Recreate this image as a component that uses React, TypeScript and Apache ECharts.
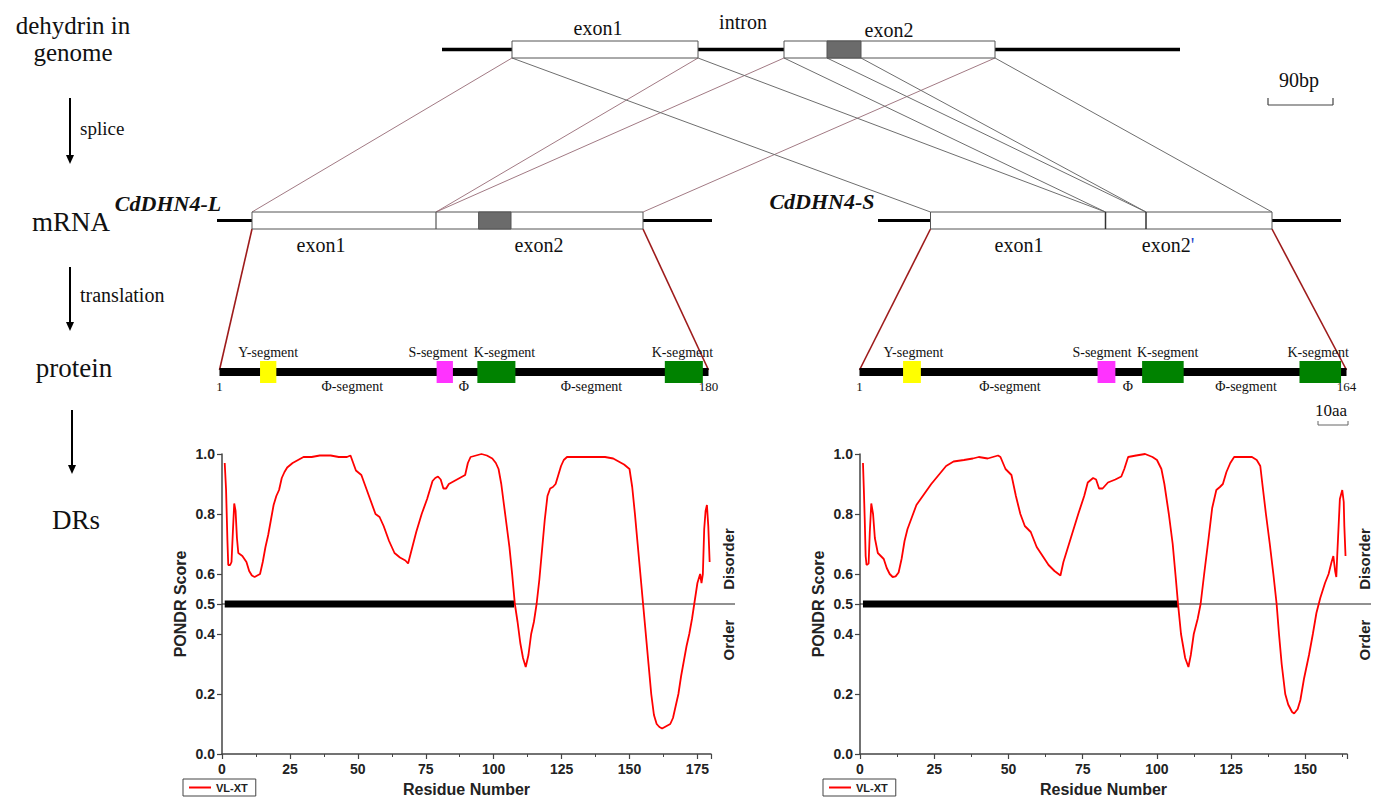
import React, { useEffect, useRef } from "react";
import * as echarts from "echarts";

// ---------------- data ----------------
const residueTickStep = 25;
const yTickValues = [0, 0.2, 0.4, 0.5, 0.6, 0.8, 1.0];
const proteinLengthL = 180;
const proteinLengthS = 164;
const disorderThreshold = 0.5;
const longDisorderL = [1, 107.5];
const longDisorderS = [1, 107.1];

// PONDR VL-XT scores, [residue, score]
const pondrL: [number, number][] = [
  [1, 0.97], [1.5, 0.88], [2, 0.71], [2.3, 0.63], [3, 0.63], [3.5, 0.64], [4, 0.74], [4.5, 0.835],
  [5, 0.81], [5.5, 0.72], [6, 0.67], [7.5, 0.66], [9, 0.64], [10, 0.61], [11, 0.595], [12, 0.59],
  [13, 0.595], [14, 0.6], [15, 0.64], [16, 0.69], [17, 0.73], [18, 0.78], [19, 0.83], [20, 0.86],
  [21, 0.88], [22, 0.92], [23, 0.94], [24, 0.955], [26, 0.97], [28, 0.98], [30, 0.99], [33, 0.99],
  [36, 0.995], [40, 0.995], [43, 0.99], [46, 0.99], [47.3, 0.995], [48.3, 0.97], [49.3, 0.945],
  [51.3, 0.93], [52.5, 0.9], [54.5, 0.85], [56.5, 0.8], [58, 0.79], [59.5, 0.76], [61.5, 0.71],
  [63.5, 0.67], [65.5, 0.655], [67.5, 0.645], [68.5, 0.635], [69.5, 0.67], [71.5, 0.74], [73.5, 0.8],
  [75.5, 0.85], [77.5, 0.91], [78.5, 0.92], [79.5, 0.925], [80.5, 0.915], [81.5, 0.885], [82.5, 0.885],
  [83.5, 0.9], [85.5, 0.91], [87.5, 0.92], [89.5, 0.93], [90.5, 0.97], [91.5, 0.99], [93.5, 0.995],
  [95.5, 1.0], [97.5, 0.995], [99.5, 0.985], [100.8, 0.97], [101.8, 0.95], [102.8, 0.9], [103.8, 0.83],
  [104.8, 0.76], [105.8, 0.69], [106.8, 0.6], [107.8, 0.5], [108.8, 0.44], [109.8, 0.37], [110.8, 0.32],
  [111.8, 0.29], [112.8, 0.33], [113.8, 0.4], [114.8, 0.44], [115.8, 0.5], [116.8, 0.58], [117.8, 0.68],
  [118.8, 0.78], [119.8, 0.86], [120.8, 0.885], [121.8, 0.89], [122.8, 0.9], [123.8, 0.93], [124.8, 0.96],
  [125.8, 0.98], [127, 0.99], [130, 0.99], [136, 0.99], [141, 0.99], [144, 0.985], [146, 0.975],
  [148, 0.965], [150, 0.95], [151, 0.89], [152, 0.8], [153, 0.7], [154, 0.6], [155, 0.5], [156, 0.4],
  [157, 0.3], [158, 0.2], [159, 0.13], [160, 0.1], [161, 0.09], [162, 0.085], [163, 0.09], [164, 0.095],
  [165, 0.1], [166, 0.12], [167, 0.16], [168, 0.2], [169, 0.26], [170, 0.31], [171, 0.36], [172, 0.4],
  [173, 0.45], [174, 0.51], [175, 0.57], [176, 0.6], [176.5, 0.57], [177, 0.6], [177.5, 0.75],
  [178, 0.81], [178.5, 0.83], [179, 0.76], [179.5, 0.64],
];

const pondrS: [number, number][] = [
  [1, 0.97], [1.3, 0.88], [1.6, 0.78], [1.9, 0.66], [2.2, 0.63], [2.9, 0.635], [3.3, 0.74], [3.8, 0.835],
  [4.4, 0.8], [5, 0.72], [6, 0.67], [8, 0.65], [9, 0.62], [10, 0.6], [11, 0.59], [12, 0.592], [13, 0.605],
  [14, 0.65], [15, 0.71], [16, 0.75], [17.5, 0.79], [19, 0.83], [21.5, 0.865], [24, 0.9], [26.5, 0.93],
  [29, 0.96], [31.5, 0.975], [35, 0.98], [38, 0.985], [40, 0.99], [43, 0.985], [46.5, 0.995], [47.3, 0.99],
  [49, 0.95], [51, 0.93], [52.5, 0.86], [54, 0.8], [55.5, 0.76], [57.5, 0.74], [59.5, 0.69], [61.5, 0.66],
  [63.5, 0.63], [65.5, 0.61], [67.5, 0.595], [68.5, 0.64], [71, 0.72], [73.5, 0.8], [75.5, 0.86],
  [76.7, 0.905], [78.5, 0.92], [79.5, 0.915], [80.5, 0.885], [81.7, 0.885], [83.5, 0.905], [86, 0.915],
  [88, 0.925], [89, 0.95], [90.3, 0.99], [93, 0.995], [96, 1.0], [98.5, 0.99], [100, 0.98], [101.5, 0.95],
  [102.5, 0.9], [104, 0.8], [105.3, 0.7], [106.4, 0.58], [107.1, 0.5], [108.1, 0.4], [109.5, 0.32],
  [110.6, 0.29], [111.4, 0.33], [112.4, 0.4], [113.7, 0.45], [114.7, 0.5], [115.9, 0.6], [117.4, 0.72],
  [118.6, 0.82], [120, 0.88], [121.2, 0.89], [122.2, 0.9], [123.4, 0.94], [124.7, 0.97], [126, 0.99],
  [129, 0.99], [132, 0.99], [133.6, 0.98], [134.8, 0.96], [135.5, 0.9], [136.7, 0.8], [138, 0.7],
  [139.2, 0.6], [140.3, 0.5], [141.1, 0.4], [142, 0.3], [143.2, 0.2], [144.2, 0.165], [145.5, 0.14],
  [146.2, 0.135], [147.4, 0.15], [148.3, 0.18], [149.5, 0.25], [151.2, 0.33], [152.5, 0.4], [153.7, 0.47],
  [155, 0.52], [156.6, 0.57], [157.8, 0.6], [158.8, 0.64], [159.4, 0.66], [160, 0.61], [160.4, 0.59],
  [160.7, 0.66], [161.6, 0.85], [162.4, 0.88], [162.9, 0.84], [163.1, 0.76], [163.5, 0.66],
];

// protein segments (residue ranges)
const segmentKinds = ["Y", "S", "K", "K"];
const segmentRangesL = [[14, 20], [79, 85], [94, 108], [163, 177]];
const segmentRangesS = [[14.5, 20.5], [80, 86], [95, 109], [148, 162]];
const segmentLabels = ["Y-segment", "S-segment", "K-segment", "K-segment"];
const phiLabels = ["Φ-segment", "Φ", "Φ-segment"];
// label anchor residues
const segmentLabelAtL = [17, 79.5, 104, 169.5];
const segmentLabelAtS = [18, 81.5, 103.6, 154.3];
const phiLabelAtL = [48, 89, 136];
const phiLabelAtS = [50.5, 90.2, 130];

// ---------------- styles ----------------
const SERIF = "'Liberation Serif', 'Times New Roman', serif";
const SANS = "'Liberation Sans', Arial, Helvetica, sans-serif";
const segColor: Record<string, string> = { Y: "#ffff00", S: "#ff33ff", K: "#008200" };

export default function App() {
  const ref = useRef<HTMLDivElement>(null);

  useEffect(() => {
    const chart = echarts.init(ref.current!, null, { renderer: "svg" });
    const axisText = { fontFamily: SANS, fontWeight: "bold" as const, fontSize: 14, color: "#222" };
    const axisColor = "#444";

    const makeX = (gi: number, max: number) => ({
      type: "value", gridIndex: gi, min: 0, max, interval: residueTickStep,
      axisLine: { show: true, onZero: false, lineStyle: { color: axisColor, width: 1.5 } },
      axisTick: { show: true, length: 5, lineStyle: { color: axisColor, width: 1.2 } },
      minorTick: { show: true, splitNumber: 2, length: 3, lineStyle: { color: axisColor, width: 1 } },
      splitLine: { show: false },
      axisLabel: { ...axisText, margin: 8, showMaxLabel: false },
      name: "Residue Number", nameLocation: "middle", nameGap: 27,
      nameTextStyle: { fontFamily: SANS, fontWeight: "bold", fontSize: 16, color: "#222" },
    });
    const makeY = (gi: number) => ({
      type: "value", gridIndex: gi, min: 0, max: 1, interval: 0.1,
      axisLine: { show: true, onZero: false, lineStyle: { color: axisColor, width: 1.5 } },
      axisTick: { show: true, length: 5, customValues: yTickValues, lineStyle: { color: axisColor, width: 1.2 } },
      axisLabel: { ...axisText, margin: 7, customValues: yTickValues, formatter: (v: number) => v.toFixed(1) },
      splitLine: { show: false },
      name: "PONDR Score", nameLocation: "middle", nameGap: 34, nameRotate: 90,
      nameTextStyle: { fontFamily: SANS, fontWeight: "bold", fontSize: 16, color: "#222" },
    });
    const legendStyle = (left: number) => ({
      data: [{ name: "VL-XT", icon: "rect" }], left, top: 779, orient: "horizontal",
      borderColor: "#444", borderWidth: 1, borderRadius: 0, padding: [3, 8, 3, 6],
      itemWidth: 22, itemHeight: 2, itemGap: 4,
      textStyle: { fontFamily: SANS, fontWeight: "bold", fontSize: 11, color: "#222" },
    });

    chart.setOption({
      animation: false,
      backgroundColor: "#ffffff",
      grid: [
        { left: 222, top: 454, width: 489, height: 300 },
        { left: 860, top: 454, width: 487, height: 300 },
      ],
      xAxis: [makeX(0, proteinLengthL), makeX(1, proteinLengthS)],
      yAxis: [makeY(0), makeY(1)],
      legend: [legendStyle(183), legendStyle(823)],
      series: [
        {
          type: "line", name: "long disorder L", xAxisIndex: 0, yAxisIndex: 0, symbol: "none", silent: true,
          data: longDisorderL.map((x) => [x, disorderThreshold]),
          lineStyle: { color: "#000", width: 7 }, z: 2,
        },
        {
          type: "line", name: "long disorder S", xAxisIndex: 1, yAxisIndex: 1, symbol: "none", silent: true,
          data: longDisorderS.map((x) => [x, disorderThreshold]),
          lineStyle: { color: "#000", width: 7 }, z: 2,
        },
        {
          type: "line", name: "VL-XT", xAxisIndex: 0, yAxisIndex: 0, symbol: "none", data: pondrL,
          lineStyle: { color: "#ff0000", width: 1.8 }, itemStyle: { color: "#ff0000" }, z: 3,
        },
        {
          type: "line", name: "VL-XT", xAxisIndex: 1, yAxisIndex: 1, symbol: "none", data: pondrS,
          lineStyle: { color: "#ff0000", width: 1.8 }, itemStyle: { color: "#ff0000" }, z: 3,
        },
      ],
    });

    // ---------- diagram (graphic) ----------
    const g: any[] = [];
    const text = (t: string, x: number, y: number, size: number, extra: any = {}) =>
      g.push({
        type: "text", x, y, silent: true, z: 10, rotation: extra.rotation || 0,
        style: {
          text: t, fontFamily: SERIF, fontSize: size, fill: "#111", align: "center", verticalAlign: "middle",
          ...(extra.style || {}),
        },
      });
    const line = (x1: number, y1: number, x2: number, y2: number, stroke: string, lw: number, z = 5) =>
      g.push({ type: "line", silent: true, z, shape: { x1, y1, x2, y2 }, style: { stroke, lineWidth: lw } });
    const rect = (x: number, y: number, w: number, h: number, fill: string, stroke: string, lw: number, z = 7) =>
      g.push({ type: "rect", silent: true, z, shape: { x, y, width: w, height: h }, style: { fill, stroke, lineWidth: lw } });
    const arrow = (x: number, y1: number, y2: number) => {
      line(x, y1, x, y2 - 6, "#000", 2);
      g.push({ type: "polygon", silent: true, z: 6, shape: { points: [[x - 4, y2 - 9], [x + 4, y2 - 9], [x, y2]] }, style: { fill: "#000" } });
    };

    // left captions
    text("dehydrin in", 73, 25, 25);
    text("genome", 73, 52, 25);
    arrow(70, 98, 164);
    text("splice", 80, 128, 19, { style: { align: "left" } });
    text("mRNA", 71, 222, 27);
    arrow(70, 267, 331);
    text("translation", 80, 295, 20, { style: { align: "left" } });
    text("protein", 74, 368, 27);
    arrow(72, 410, 474);
    text("DRs", 76, 520, 27);

    // genome structure
    const genome = { top: 41, h: 17, line: [442, 1180], exon1: [512, 698], exon2: [784, 995], dark: [827, 861] };
    const mL = { top: 212, h: 17, line: [217, 712], box: [252, 643], div: 436, dark: [478.6, 511] };
    const mS = { top: 212, h: 17, line: [878, 1341], box: [930.5, 1272], div1: 1105.5, div2: 1146 };
    const gB = genome.top + genome.h;
    const boxStroke = "#555";
    const mauve = "#a27a84";
    const grey = "#6e6e6e";

    // connection lines genome -> mRNA
    line(genome.exon1[0], gB, mL.box[0], mL.top, mauve, 1, 4);
    line(genome.exon1[1], gB, mL.div, mL.top, mauve, 1, 4);
    line(genome.exon2[0], gB, mL.div, mL.top, mauve, 1, 4);
    line(genome.exon2[1], gB, mL.box[1], mL.top, mauve, 1, 4);
    line(genome.exon1[0], gB, mS.box[0], mS.top, grey, 1, 4);
    line(genome.exon1[1], gB, mS.div1, mS.top, grey, 1, 4);
    line(genome.exon2[0], gB, mS.div1, mS.top, grey, 1, 4);
    line(genome.dark[0], gB, mS.div2, mS.top, grey, 1, 4);
    line(genome.dark[1], gB, mS.div2, mS.top, grey, 1, 4);
    line(genome.exon2[1], gB, mS.box[1], mS.top, grey, 1, 4);

    // genome
    const gMid = genome.top + genome.h / 2;
    line(genome.line[0], gMid, genome.line[1], gMid, "#000", 3.5, 5);
    rect(genome.exon1[0], genome.top, genome.exon1[1] - genome.exon1[0], genome.h, "#fff", boxStroke, 1);
    rect(genome.exon2[0], genome.top, genome.exon2[1] - genome.exon2[0], genome.h, "#fff", boxStroke, 1);
    rect(genome.dark[0], genome.top, genome.dark[1] - genome.dark[0], genome.h, "#6b6b6b", boxStroke, 1, 8);
    text("exon1", 598, 28, 20);
    text("intron", 743, 22, 20);
    text("exon2", 889, 30, 20);

    // scale bar 90bp
    text("90bp", 1299, 80, 20);
    line(1268, 105, 1333, 105, "#444", 1.2);
    line(1268, 98, 1268, 105, "#444", 1.2);
    line(1333, 98, 1333, 105, "#444", 1.2);

    // mRNA L
    const lMid = mL.top + mL.h / 2;
    line(mL.line[0], lMid, mL.line[1], lMid, "#000", 3, 5);
    rect(mL.box[0], mL.top, mL.box[1] - mL.box[0], mL.h, "#fff", boxStroke, 1);
    line(mL.div, mL.top, mL.div, mL.top + mL.h, boxStroke, 1.2, 8);
    rect(mL.dark[0], mL.top, mL.dark[1] - mL.dark[0], mL.h, "#6b6b6b", boxStroke, 1, 8);
    text("CdDHN4-L", 168, 203, 22, { style: { fontStyle: "italic", fontWeight: "bold" } });
    text("exon1", 321, 245, 20);
    text("exon2", 539, 245, 20);

    // mRNA S
    const sMid = mS.top + mS.h / 2;
    line(mS.line[0], sMid, mS.line[1], sMid, "#000", 3, 5);
    rect(mS.box[0], mS.top, mS.box[1] - mS.box[0], mS.h, "#fff", boxStroke, 1);
    line(mS.div1, mS.top, mS.div1, mS.top + mS.h, "#333", 1.5, 8);
    line(mS.div2, mS.top, mS.div2, mS.top + mS.h, "#333", 1.5, 8);
    text("CdDHN4-S", 822, 201, 22, { style: { fontStyle: "italic", fontWeight: "bold" } });
    text("exon1", 1019, 245, 20);
    g.push({
      type: "text", x: 1168, y: 245, silent: true, z: 10,
      style: {
        text: "{a|exon2}{b|'}", align: "center", verticalAlign: "middle",
        rich: {
          a: { fontFamily: SERIF, fontSize: 20, fill: "#111" },
          b: { fontFamily: SERIF, fontSize: 20, fill: "#2244cc", verticalAlign: "top" },
        },
      },
    });

    // protein bars aligned to the residue axes
    const barY = 372;
    const proteins = [
      { gi: 0, len: proteinLengthL, ranges: segmentRangesL, labelAt: segmentLabelAtL, phiAt: phiLabelAtL, mrna: mL.box },
      { gi: 1, len: proteinLengthS, ranges: segmentRangesS, labelAt: segmentLabelAtS, phiAt: phiLabelAtS, mrna: mS.box },
    ];
    const xPix = (gi: number, r: number) => (chart.convertToPixel({ xAxisIndex: gi } as any, r) as number);
    const yPix = (gi: number, v: number) => (chart.convertToPixel({ yAxisIndex: gi } as any, v) as number);
    const mBottom = mL.top + mL.h;
    proteins.forEach((p) => {
      const x0 = xPix(p.gi, 0) - (p.gi === 0 ? 2.5 : 0.5);
      const x1 = xPix(p.gi, p.len) - (p.gi === 0 ? 2.5 : 0.5);
      // translation lines
      line(p.mrna[0], mBottom, x0, barY - 2, "#9e1b1b", 1.6, 4);
      line(p.mrna[1], mBottom, x1, barY - 2, "#9e1b1b", 1.6, 4);
      // backbone
      rect(x0, barY - 4, x1 - x0, 8, "#000", "#000", 0, 6);
      p.ranges.forEach((rg, i) => {
        const a = xPix(p.gi, rg[0]);
        const b = xPix(p.gi, rg[1]);
        rect(a, barY - 11, b - a, 22, segColor[segmentKinds[i]], "none", 0, 8);
        text(segmentLabels[i], xPix(p.gi, p.labelAt[i]), barY - 20, 14);
      });
      p.phiAt.forEach((r, i) => text(phiLabels[i], xPix(p.gi, r), barY + 14, 14));
      text("1", x0, barY + 14, 13);
      text(String(p.len), x1, barY + 14, 13);

      // threshold line extending beyond axis
      const gridRight = xPix(p.gi, p.len);
      const yHalf = yPix(p.gi, disorderThreshold);
      line(xPix(p.gi, 0), yHalf, gridRight + 24, yHalf, "#222", 1, 1);
      text("Disorder", gridRight + 17, yHalf - 45, 15, {
        rotation: Math.PI / 2, style: { fontFamily: SANS, fontWeight: "bold", fill: "#222" },
      });
      text("Order", gridRight + 17, yHalf + 36, 15, {
        rotation: Math.PI / 2, style: { fontFamily: SANS, fontWeight: "bold", fill: "#222" },
      });
    });

    // scale bar 10aa
    text("10aa", 1331, 410, 17);
    line(1318, 425, 1348, 425, "#666", 1);
    line(1318, 421, 1318, 425, "#666", 1);
    line(1348, 421, 1348, 425, "#666", 1);

    chart.setOption({ graphic: { elements: g } });

    return () => chart.dispose();
  }, []);

  return (
    <div
      ref={ref}
      style={{ position: "absolute", left: 0, top: 0, width: 1373, height: 799, background: "#fff" }}
    />
  );
}
